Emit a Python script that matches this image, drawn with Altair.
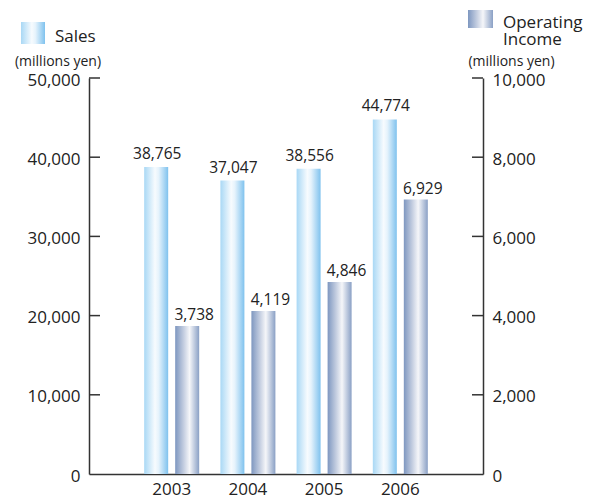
import altair as alt
import pandas as pd

years = ["2003", "2004", "2005", "2006"]
sales = [38765, 37047, 38556, 44774]
income = [3738, 4119, 4846, 6929]
sales_ticks = [10000, 20000, 30000, 40000, 50000]
income_ticks = [2000, 4000, 6000, 8000, 10000]

df = pd.DataFrame({"year": years, "sales": sales, "income": income})

FONT = "Open Sans"
TXT = "#222222"
AX = "#333333"

sales_grad = alt.Gradient(
    gradient="linear", x1=0, x2=1, y1=0, y2=0,
    stops=[
        alt.GradientStop(color="#a9d8f5", offset=0),
        alt.GradientStop(color="#f7fbfe", offset=0.45),
        alt.GradientStop(color="#e6f3fc", offset=0.6),
        alt.GradientStop(color="#7fc2ee", offset=1),
    ],
)
income_grad = alt.Gradient(
    gradient="linear", x1=0, x2=1, y1=0, y2=0,
    stops=[
        alt.GradientStop(color="#7e97c0", offset=0),
        alt.GradientStop(color="#c3cde0", offset=0.35),
        alt.GradientStop(color="#f5f6f9", offset=0.6),
        alt.GradientStop(color="#8aa0c5", offset=1),
    ],
)

x_enc = alt.X(
    "year:N",
    sort=years,
    scale=alt.Scale(type="band", paddingInner=0, paddingOuter=0.585),
    axis=alt.Axis(
        title=None, labelAngle=0, ticks=False, labelPadding=7,
        labelFont=FONT, labelFontSize=17, labelColor=TXT,
        domainColor=AX, domainWidth=1.5, labelBaseline="top", grid=False,
    ),
)

sales_scale = alt.Scale(domain=[0, 50000], nice=False)
income_scale = alt.Scale(domain=[0, 10000], nice=False)

base = alt.Chart(df)

sales_bars = base.mark_bar(fill=sales_grad, width=24, xOffset=-15.5).encode(
    x=x_enc,
    y=alt.Y(
        "sales:Q", scale=sales_scale,
        axis=alt.Axis(
            title=None, values=sales_ticks + [0], format=",.0f", tickSize=0,
            labelPadding=9, labelFont=FONT, labelFontSize=17, labelColor=TXT,
            domainColor=AX, domainWidth=1.5, grid=False, labelOffset=2,
        ),
    ),
)
income_bars = base.mark_bar(fill=income_grad, width=24, xOffset=15.5).encode(
    x=x_enc,
    y=alt.Y(
        "income:Q", scale=income_scale,
        axis=alt.Axis(
            title=None, orient="right", values=income_ticks + [0], format=",.0f",
            tickSize=0, labelPadding=9, labelFont=FONT, labelFontSize=17,
            labelColor=TXT, domainColor=AX, domainWidth=1.5, grid=False,
            labelOffset=2,
        ),
    ),
)

sales_text = base.mark_text(
    font=FONT, fontSize=15.5, color=TXT, dx=-14.5, dy=-8, baseline="alphabetic"
).encode(
    x=x_enc,
    y=alt.Y("sales:Q", scale=sales_scale, axis=None),
    text=alt.Text("sales:Q", format=","),
)
income_text = base.mark_text(
    font=FONT, fontSize=15.5, color=TXT, dx=22.5, dy=-6, baseline="alphabetic"
).encode(
    x=x_enc,
    y=alt.Y("income:Q", scale=income_scale, axis=None),
    text=alt.Text("income:Q", format=","),
)

left_ticks = alt.Chart(pd.DataFrame({"v": sales_ticks})).mark_rule(
    color=AX, strokeWidth=1.5
).encode(
    y=alt.Y("v:Q", scale=sales_scale, axis=None),
    x=alt.value(0), x2=alt.value(11),
)
right_ticks = alt.Chart(pd.DataFrame({"v": income_ticks})).mark_rule(
    color=AX, strokeWidth=1.5
).encode(
    y=alt.Y("v:Q", scale=income_scale, axis=None),
    x=alt.value(383), x2=alt.value(394),
)

one = pd.DataFrame({"a": [0]})

sales_swatch = alt.Chart(one).mark_rect(fill=sales_grad).encode(
    x=alt.value(-68), x2=alt.value(-44), y=alt.value(-56), y2=alt.value(-34)
)
income_swatch = alt.Chart(one).mark_rect(fill=income_grad).encode(
    x=alt.value(379), x2=alt.value(404), y=alt.value(-68), y2=alt.value(-50)
)


def label(txt, x, y, size=17, align="left"):
    return alt.Chart(pd.DataFrame({"t": [txt]})).mark_text(
        font=FONT, fontSize=size, color=TXT, align=align, baseline="alphabetic"
    ).encode(text="t:N", x=alt.value(x), y=alt.value(y))


texts = [
    label("Sales", -34, -36),
    label("(millions yen)", -31, -12, size=14, align="center"),
    label("Operating", 414, -50),
    label("Income", 414, -33),
    label("(millions yen)", 422.5, -12, size=14, align="center"),
]

chart = alt.layer(
    sales_bars, income_bars, sales_text, income_text, left_ticks, right_ticks,
    sales_swatch, income_swatch, *texts,
).resolve_scale(y="independent").properties(
    width=394, height=396,
    autosize=alt.AutoSizeParams(type="none"),
    padding={"left": 89, "top": 78, "right": 107, "bottom": 22},
).configure_view(stroke=None)

chart.save("out.html", embed_options={"renderer": "svg", "actions": False})
